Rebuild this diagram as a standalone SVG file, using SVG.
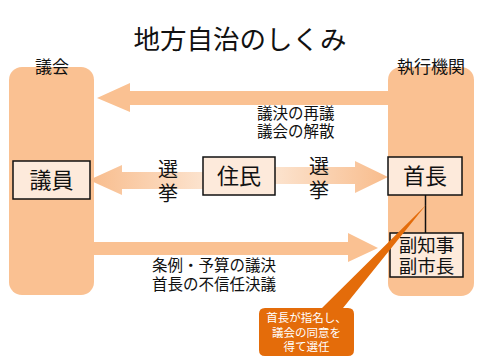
<svg xmlns="http://www.w3.org/2000/svg" width="480" height="360" viewBox="0 0 480 360">
<defs>
<style>
.col{fill:#FAC192;}
.box{fill:#FDEADB;stroke:#111;stroke-width:1.5;}
.jp{font-family:"Liberation Sans","Noto Sans CJK JP","Noto Sans CJK SC",sans-serif;fill:#111;}
.arr{fill:#FAC192;}
.co{fill:#E46C0A;}
.cot{font-family:"Liberation Sans","Noto Sans CJK JP","Noto Sans CJK SC",sans-serif;fill:#fff;font-size:11.5px;text-anchor:middle;}
</style>
<linearGradient id="gl" x1="89" y1="0" x2="203" y2="0" gradientUnits="userSpaceOnUse">
<stop offset="0" stop-color="#F8BC8C"/>
<stop offset="1" stop-color="#FCE3CE"/>
</linearGradient>
<linearGradient id="gr" x1="275" y1="0" x2="388" y2="0" gradientUnits="userSpaceOnUse">
<stop offset="0" stop-color="#FCE3CE"/>
<stop offset="1" stop-color="#F8BC8C"/>
</linearGradient>
</defs>
<rect width="480" height="360" fill="#fff"/>
<text class="jp" x="240" y="49" font-size="26.5" text-anchor="middle">地方自治のしくみ</text>

<g id="gikai">
<rect class="col" x="9" y="67" width="85" height="228" rx="13"/>
<text class="jp" x="52" y="73" font-size="17" text-anchor="middle">議会</text>
</g>
<g id="shikkou">
<rect class="col" x="388" y="67" width="86" height="229" rx="13"/>
<text class="jp" x="431" y="73" font-size="17" text-anchor="middle">執行機関</text>
</g>

<g id="connectors">
<polygon class="arr" points="388,91 130,91 130,83 97,98 130,112 130,105 388,105"/>
<polygon fill="url(#gl)" points="203,172 122,172 122,165 89,180 122,195 122,189 203,189"/>
<polygon fill="url(#gr)" points="275,167 355,167 355,161 388,177 355,193 355,184 275,184"/>
<polygon class="arr" points="94,242 348,242 348,233 378,248 348,262 348,255 94,255"/>
<line x1="425.5" y1="195" x2="425.5" y2="233" stroke="#111" stroke-width="1.5"/>
</g>

<g id="label-top">
<text class="jp" x="257" y="118.5" font-size="15.5">議決の再議</text>
<text class="jp" x="257" y="137" font-size="15.5">議会の解散</text>
</g>
<g id="label-bottom">
<text class="jp" x="152" y="271" font-size="15.5">条例・予算の議決</text>
<text class="jp" x="152" y="290" font-size="15.5">首長の不信任決議</text>
</g>
<g id="senkyo-left">
<text class="jp" x="168" y="177" font-size="20" text-anchor="middle">選</text>
<text class="jp" x="168" y="201" font-size="20" text-anchor="middle">挙</text>
</g>
<g id="senkyo-right">
<text class="jp" x="319" y="174" font-size="20" text-anchor="middle">選</text>
<text class="jp" x="319" y="198" font-size="20" text-anchor="middle">挙</text>
</g>

<g id="giin">
<rect class="box" x="13" y="161" width="77" height="38"/>
<text class="jp" x="51.5" y="188" font-size="22" text-anchor="middle">議員</text>
</g>
<g id="jumin">
<rect class="box" x="203" y="157" width="72" height="38"/>
<text class="jp" x="239" y="184" font-size="22" text-anchor="middle">住民</text>
</g>
<g id="shucho">
<rect class="box" x="388" y="157" width="74" height="38"/>
<text class="jp" x="425" y="184" font-size="22" text-anchor="middle">首長</text>
</g>
<g id="fuku">
<rect class="box" x="390" y="233" width="73" height="44"/>
<text class="jp" x="426.5" y="252" font-size="18.5" text-anchor="middle">副知事</text>
<text class="jp" x="426.5" y="273" font-size="18.5" text-anchor="middle">副市長</text>
</g>

<g id="callout">
<path class="co" d="M265,308 L322,308 L426,205 L343,308 L348,308 Q354,308 354,314 L354,350 Q354,356 348,356 L265,356 Q259,356 259,350 L259,314 Q259,308 265,308 Z"/>
<text class="cot" x="306.5" y="322">首長が指名し、</text>
<text class="cot" x="306.5" y="337">議会の同意を</text>
<text class="cot" x="306.5" y="351">得て選任</text>
</g>
</svg>
